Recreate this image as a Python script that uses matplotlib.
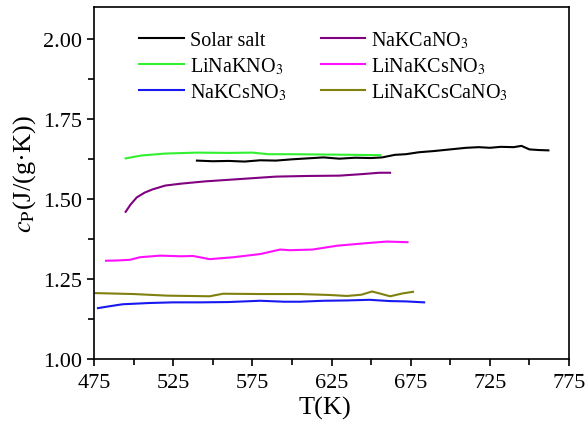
import matplotlib
matplotlib.use("Agg")
import matplotlib.pyplot as plt
from matplotlib.ticker import FixedLocator, MultipleLocator, FormatStrFormatter

plt.rcParams['font.family'] = ['Liberation Serif', 'DejaVu Serif']
plt.rcParams['mathtext.fontset'] = 'stix'

solar_T = [540, 550, 560, 570, 580, 590, 600, 610, 620, 630, 640, 650, 657, 665, 672, 680, 690, 700, 710, 718, 725, 732, 740, 745, 750, 756, 762]
solar_cp = [1.620, 1.618, 1.619, 1.617, 1.621, 1.620, 1.624, 1.627, 1.630, 1.626, 1.629, 1.628, 1.630, 1.638, 1.640, 1.646, 1.650, 1.655, 1.660, 1.662, 1.660, 1.663, 1.662, 1.666, 1.655, 1.653, 1.652]

linak_T = [495, 505, 520, 540, 560, 575, 585, 600, 620, 640, 656]
linak_cp = [1.627, 1.636, 1.642, 1.645, 1.644, 1.645, 1.640, 1.640, 1.639, 1.638, 1.637]

nakcs_T = [477.5, 485, 493, 510, 525, 542, 560, 580, 595, 605, 620, 635, 649, 662, 672, 683.5]
nakcs_cp = [1.159, 1.165, 1.171, 1.175, 1.177, 1.177, 1.178, 1.182, 1.179, 1.179, 1.182, 1.183, 1.185, 1.181, 1.180, 1.177]

nakca_T = [495, 498, 502, 507, 512, 520, 530, 545, 560, 575, 590, 610, 630, 645, 655, 662]
nakca_cp = [1.460, 1.482, 1.505, 1.520, 1.530, 1.542, 1.548, 1.555, 1.560, 1.565, 1.570, 1.572, 1.573, 1.578, 1.582, 1.582]

linakcs_T = [482.6, 490, 497.7, 504, 516.7, 530, 537.5, 548, 563, 580, 592.5, 598.8, 613, 628.5, 647, 660, 673]
linakcs_cp = [1.307, 1.308, 1.310, 1.318, 1.323, 1.321, 1.322, 1.312, 1.318, 1.328, 1.342, 1.340, 1.342, 1.354, 1.362, 1.367, 1.365]

linakcsca_T = [475.6, 500, 521, 548, 556.5, 580, 605, 624, 634.8, 644, 650.6, 656, 662, 670, 676.5]
linakcsca_cp = [1.206, 1.203, 1.198, 1.196, 1.204, 1.203, 1.203, 1.200, 1.197, 1.201, 1.211, 1.204, 1.196, 1.205, 1.210]

x_major_ticks = [475, 525, 575, 625, 675, 725, 775]
x_minor_ticks = [500, 550, 600, 650, 700, 750]

series = [
    ("Solar salt", solar_T, solar_cp, "black"),
    ("LiNaKNO$_3$", linak_T, linak_cp, "#30f030"),
    ("NaKCsNO$_3$", nakcs_T, nakcs_cp, "#1818f0"),
    ("NaKCaNO$_3$", nakca_T, nakca_cp, "#800080"),
    ("LiNaKCsNO$_3$", linakcs_T, linakcs_cp, "#ff10ff"),
    ("LiNaKCsCaNO$_3$", linakcsca_T, linakcsca_cp, "#808010"),
]

fig = plt.figure(figsize=(5.87, 4.27), dpi=100)
ax = fig.add_axes([94/587, 1 - 360/427, 475/587, 352/427])
for label, T, cp, c in series:
    ax.plot(T, cp, color=c, lw=1.5, label=label)

ax.set_xlim(475, 775)
ax.set_ylim(1.0, 2.1)
ax.xaxis.set_major_locator(FixedLocator(x_major_ticks))
ax.xaxis.set_minor_locator(FixedLocator(x_minor_ticks))
ax.yaxis.set_major_locator(MultipleLocator(0.25))
ax.yaxis.set_minor_locator(MultipleLocator(0.125))
ax.yaxis.set_major_formatter(FormatStrFormatter('%.2f'))
ax.tick_params(which='both', direction='out', top=False, right=False, labelsize=16, width=1.2)
ax.tick_params(which='major', length=5)
ax.tick_params(which='minor', length=4)
ax.tick_params(axis='x', pad=5)
for s in ax.spines.values():
    s.set_linewidth(1.2)

ax.set_xlabel("T(K)", fontsize=19)
ax.xaxis.set_label_coords((325 - 94) / 475, -(408 - 360) / 352)
ax.xaxis.label.set_va('center')
ax.set_ylabel("$c_{\\mathrm{P}}$(J/(g·K))", fontsize=19)
ax.yaxis.set_label_coords((25 - 94) / 475, (360 - 174) / 352)
ax.yaxis.label.set_va('center')

ax.legend(ncol=2, frameon=False, fontsize=14.5, loc='upper left',
          bbox_to_anchor=(0.07, 0.97), handlelength=2.2, handletextpad=0.3,
          columnspacing=1.7, labelspacing=0.25, borderaxespad=0.2)

fig.savefig("out.png", dpi=100)
